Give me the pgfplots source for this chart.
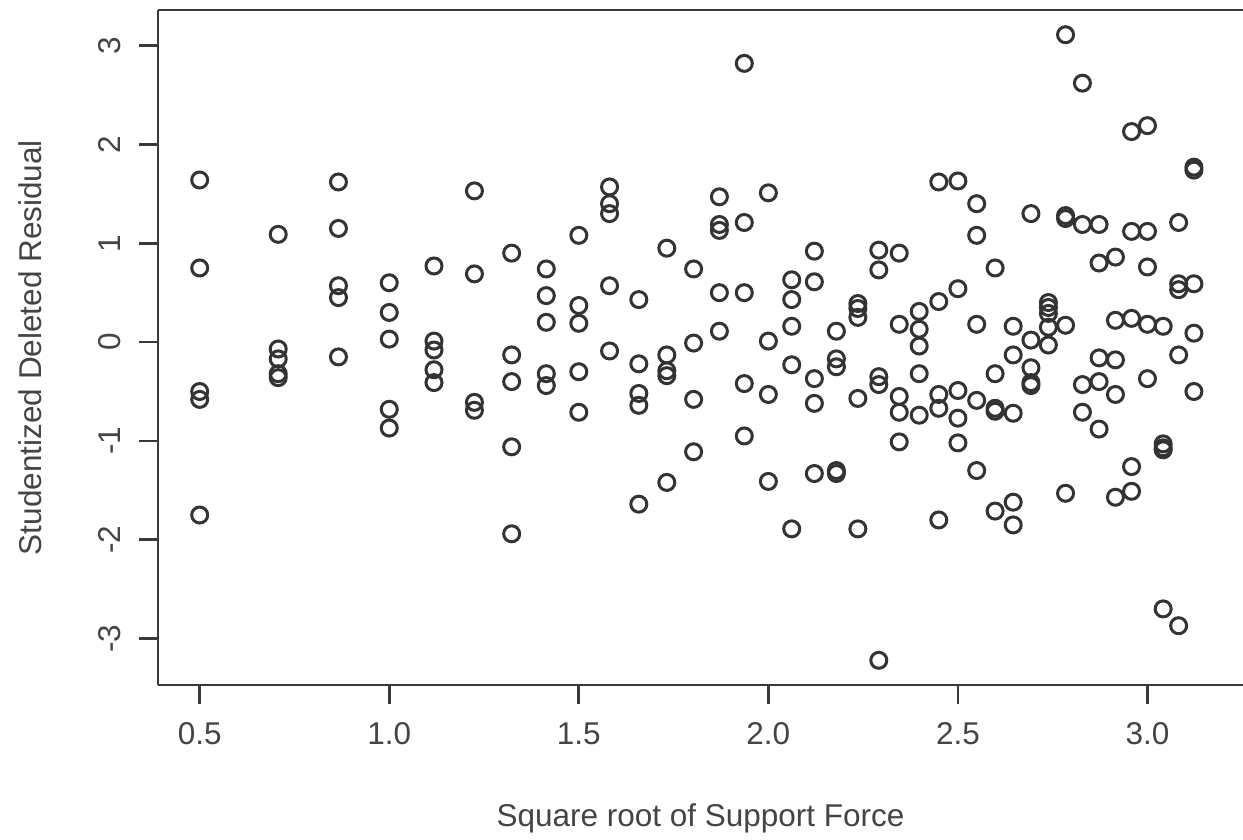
\documentclass[border=0pt]{standalone}
\usepackage{pgfplots}
\pgfplotsset{compat=1.18}
\usepackage{fontspec}
\setmainfont{Liberation Sans}
\definecolor{ax}{HTML}{3A3A3A}
\definecolor{txt}{HTML}{444444}
\definecolor{pt}{HTML}{333333}
\begin{document}
\begin{tikzpicture}
\begin{axis}[
  at={(63.2pt,61.6pt)}, anchor=south west,
  width=434pt, height=270pt, scale only axis,
  xmin=0.39, xmax=3.252, ymin=-3.47, ymax=3.36,
  axis x line*=bottom, axis y line*=left,
  axis line style={draw=ax, line width=1.1pt, -},
  tick style={draw=ax, line width=1.1pt},
  tick align=outside, major tick length=7.4pt,
  xtick={0.5,1.0,1.5,2.0,2.5,3.0},
  ytick={-3,-2,-1,0,1,2,3},
  xticklabel style={/pgf/number format/fixed, /pgf/number format/fixed zerofill, /pgf/number format/precision=1},
  /pgf/number format/assume math mode=true,
  ticklabel style={font=\fontsize{12.6}{15}\selectfont, text=txt},
  yticklabel style={rotate=90, anchor=south},
  yticklabels={-3,-2,-1,0,1,2,3},
  xticklabel shift=4pt,
  yticklabel shift=4pt,
  xlabel={Square root of Support Force},
  ylabel={Studentized Deleted Residual},
  label style={font=\fontsize{12.6}{15}\selectfont, text=txt},
  xlabel style={at={(axis description cs:0.5,-0.197)}, anchor=center},
  ylabel style={at={(axis description cs:-0.118,0.5)}, anchor=center, rotate=0},
  clip=false,
]
\addplot[only marks, mark=o, mark size=3.2pt, mark options={draw=pt, line width=1.2pt}] coordinates {
(0.5,1.64) (0.5,0.75) (0.5,-0.50) (0.5,-0.58) (0.5,-1.75)
(0.7071,1.09) (0.7071,-0.07) (0.7071,-0.17) (0.7071,-0.32) (0.7071,-0.36)
(0.8660,1.62) (0.8660,1.15) (0.8660,0.57) (0.8660,0.45) (0.8660,-0.15)
(1.0,0.60) (1.0,0.30) (1.0,0.03) (1.0,-0.68) (1.0,-0.87)
(1.1180,0.77) (1.1180,0.01) (1.1180,-0.08) (1.1180,-0.28) (1.1180,-0.41)
(1.2247,1.53) (1.2247,0.69) (1.2247,-0.61) (1.2247,-0.69)
(1.3229,0.90) (1.3229,-0.13) (1.3229,-0.40) (1.3229,-1.06) (1.3229,-1.94)
(1.4142,0.74) (1.4142,0.47) (1.4142,0.20) (1.4142,-0.32) (1.4142,-0.44)
(1.5,1.08) (1.5,0.37) (1.5,0.19) (1.5,-0.30) (1.5,-0.71)
(1.5811,1.57) (1.5811,1.40) (1.5811,1.30) (1.5811,0.57) (1.5811,-0.09)
(1.6583,0.43) (1.6583,-0.22) (1.6583,-0.52) (1.6583,-0.64) (1.6583,-1.64)
(1.7321,0.95) (1.7321,-0.13) (1.7321,-0.29) (1.7321,-0.34) (1.7321,-1.42)
(1.8028,0.74) (1.8028,-0.01) (1.8028,-0.58) (1.8028,-1.11)
(1.8708,1.47) (1.8708,1.19) (1.8708,1.13) (1.8708,0.50) (1.8708,0.11)
(1.9365,2.82) (1.9365,1.21) (1.9365,0.50) (1.9365,-0.42) (1.9365,-0.95)
(2.0,1.51) (2.0,0.01) (2.0,-0.53) (2.0,-1.41)
(2.0616,0.63) (2.0616,0.43) (2.0616,0.16) (2.0616,-0.23) (2.0616,-1.89)
(2.1213,0.92) (2.1213,0.61) (2.1213,-0.37) (2.1213,-0.62) (2.1213,-1.33)
(2.1794,0.11) (2.1794,-0.17) (2.1794,-0.25) (2.1794,-1.30) (2.1794,-1.33)
(2.2361,0.39) (2.2361,0.34) (2.2361,0.25) (2.2361,-0.57) (2.2361,-1.89)
(2.2913,0.93) (2.2913,0.73) (2.2913,-0.35) (2.2913,-0.43) (2.2913,-3.22)
(2.3452,0.90) (2.3452,0.18) (2.3452,-0.55) (2.3452,-0.71) (2.3452,-1.01)
(2.3979,0.31) (2.3979,0.13) (2.3979,-0.04) (2.3979,-0.32) (2.3979,-0.74)
(2.4495,1.62) (2.4495,0.41) (2.4495,-0.53) (2.4495,-0.67) (2.4495,-1.80)
(2.5,1.63) (2.5,0.54) (2.5,-0.49) (2.5,-0.77) (2.5,-1.02)
(2.5495,1.40) (2.5495,1.08) (2.5495,0.18) (2.5495,-0.59) (2.5495,-1.30)
(2.5981,0.75) (2.5981,-0.32) (2.5981,-0.67) (2.5981,-0.70) (2.5981,-1.71)
(2.6458,0.16) (2.6458,-0.13) (2.6458,-0.72) (2.6458,-1.62) (2.6458,-1.85)
(2.6926,1.30) (2.6926,0.02) (2.6926,-0.26) (2.6926,-0.41) (2.6926,-0.44)
(2.7386,0.40) (2.7386,0.35) (2.7386,0.29) (2.7386,0.15) (2.7386,-0.03)
(2.7839,3.11) (2.7839,1.28) (2.7839,1.25) (2.7839,0.17) (2.7839,-1.53)
(2.8284,2.62) (2.8284,1.19) (2.8284,-0.43) (2.8284,-0.71)
(2.8723,1.19) (2.8723,0.80) (2.8723,-0.16) (2.8723,-0.40) (2.8723,-0.88)
(2.9155,0.86) (2.9155,0.22) (2.9155,-0.18) (2.9155,-0.53) (2.9155,-1.57)
(2.9580,2.13) (2.9580,1.12) (2.9580,0.24) (2.9580,-1.26) (2.9580,-1.51)
(3.0,2.19) (3.0,1.12) (3.0,0.76) (3.0,0.18) (3.0,-0.37)
(3.0414,0.16) (3.0414,-1.03) (3.0414,-1.07) (3.0414,-1.09) (3.0414,-2.70)
(3.0822,1.21) (3.0822,0.59) (3.0822,0.53) (3.0822,-0.13) (3.0822,-2.87)
(3.1225,1.77) (3.1225,1.74) (3.1225,0.59) (3.1225,0.09) (3.1225,-0.50)
};
\draw[draw=ax, line width=1.1pt] (rel axis cs:0,1) -- (rel axis cs:1,1);
\end{axis}
\pgfresetboundingbox
\useasboundingbox (0pt,0pt) rectangle (497.2pt,335.6pt);
\end{tikzpicture}
\end{document}
